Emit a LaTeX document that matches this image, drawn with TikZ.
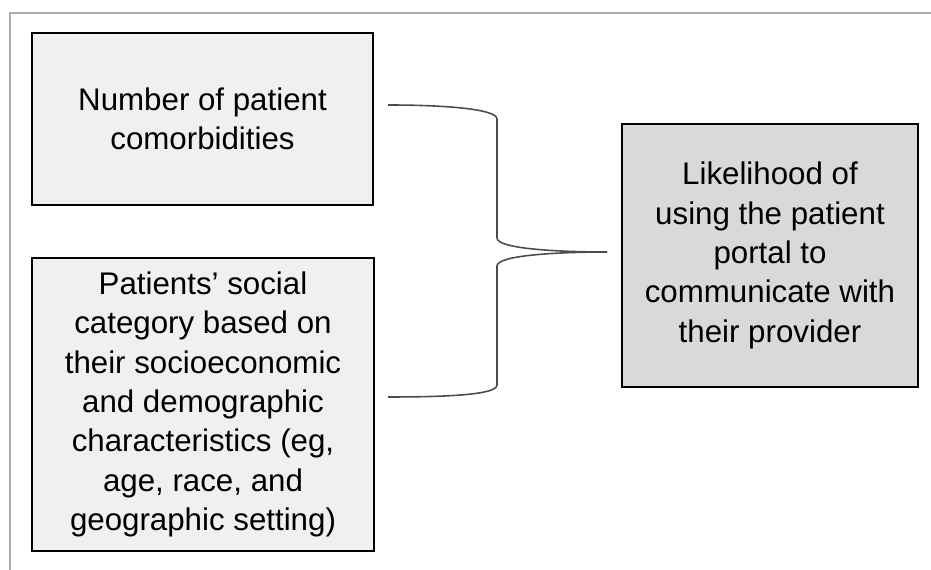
\documentclass[tikz,border=0pt]{standalone}
\usepackage{fontspec}
\setmainfont{Liberation Sans}
\usetikzlibrary{arrows}
\definecolor{lightbox}{RGB}{240,240,240}
\definecolor{darkbox}{RGB}{217,217,217}
\tikzset{
	factor/.style={draw=black, line width=1.5pt, fill=lightbox, inner sep=0pt, align=center, font=\fontsize{17.8}{22.4}\selectfont},
	outcome/.style={factor, fill=darkbox},
	brace/.style={draw=black!70, line width=0.9pt}
}

\begin{document}
\begin{tikzpicture}[>=latex, x=0.02cm, y=-0.02cm]
		\useasboundingbox (0,0) rectangle (931,570);
		%Cornice
		\draw [gray!65, line width=1.2pt] (10,570) -- (10,13) -- (931,13);
		%Fattori
		\node [factor, minimum width=6.82cm, minimum height=3.44cm] (comorb) at (202.5,119) {Number of patient\\comorbidities};
		\node [factor, minimum width=6.84cm, minimum height=5.86cm] (social) at (203,404.5) {Patients’ social\\category based on\\their socioeconomic\\and demographic\\characteristics (eg,\\age, race, and\\geographic setting)};
		%Esito
		\node [outcome, minimum width=5.92cm, minimum height=5.26cm] (portal) at (770,255.5) {Likelihood of\\using the patient\\portal to\\communicate with\\their provider};
		%Parentesi graffa
		\draw [brace] (388,105) .. controls (445,105) and (497,109) .. (497,119) -- (497,238) .. controls (497,249) and (560,252) .. (607,252);
		\draw [brace] (607,252) .. controls (560,252) and (497,255) .. (497,266) -- (497,385) .. controls (497,395) and (445,397) .. (388,397);
	\end{tikzpicture}
\end{document}
